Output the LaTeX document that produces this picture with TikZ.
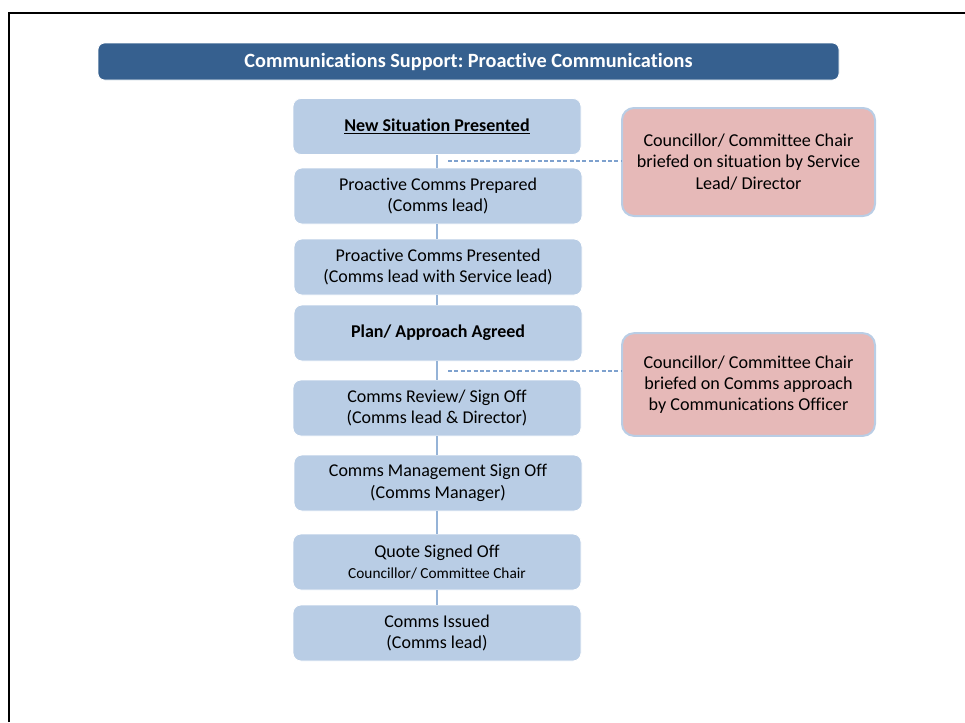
\documentclass[tikz,border=0pt]{standalone}
\usepackage{fontspec}
\setmainfont{Carlito}[Ligatures={NoCommon}]
\definecolor{titleblue}{HTML}{36608F}
\definecolor{boxblue}{HTML}{B9CDE5}
\definecolor{notered}{HTML}{E6B9B8}
\definecolor{linkblue}{HTML}{95B3D7}
\definecolor{dashblue}{HTML}{7EA1CE}
\begin{document}
\begin{tikzpicture}[x=0.75pt,y=-0.75pt,
  stepbox/.style={rectangle, rounded corners=6pt, fill=boxblue, draw=white, line width=0.6pt,
    minimum width=216pt, minimum height=42pt, align=center, inner sep=2pt,
    font=\fontsize{13.5}{16}\selectfont},
  notebox/.style={rectangle, rounded corners=9pt, fill=notered, draw=boxblue, line width=1.5pt,
    minimum width=189.75pt, align=center, inner sep=2pt,
    font=\fontsize{13.6}{16}\selectfont},
  titlebar/.style={rectangle, rounded corners=5pt, fill=titleblue, draw=white, line width=0.6pt,
    minimum width=555.75pt, minimum height=27.75pt, text=white,
    font=\fontsize{15.2}{18}\selectfont\bfseries},
  flow/.style={draw=linkblue, line width=1.1pt},
  brief/.style={draw=dashblue, line width=0.8pt, dash pattern=on 3pt off 1.8pt}
]
\useasboundingbox (0,0) rectangle (965,722);
\draw[black, line width=1.5pt] (9,722) -- (9,13) -- (965,13);

\node[titlebar] (title) at (468.5,61.5) {Communications Support:\ Proactive Communications};

\node[stepbox] (b1) at (437,126.5) {\textbf{\underline{New Situation Presented}}};
\node[stepbox] (b2) at (438,196) {Proactive Comms Prepared\\(Comms lead)};
\node[stepbox] (b3) at (438,267) {Proactive Comms Presented\\(Comms lead with Service lead)};
\node[stepbox] (b4) at (438,333) {\textbf{Plan/ Approach Agreed}};
\node[stepbox] (b5) at (437,408) {Comms Review/ Sign Off\\(Comms lead \& Director)};
\node[stepbox] (b6) at (438,483) {Comms Management Sign Off\\(Comms Manager)};
\node[stepbox] (b7) at (437,562) {Quote Signed Off\\{\fontsize{11.5}{14}\selectfont Councillor/ Committee Chair}};
\node[stepbox] (b8) at (437,633) {Comms Issued\\(Comms lead)};

\node[notebox, minimum height=81pt] (r1) at (748.5,162) {Councillor/ Committee Chair\\briefed on situation by Service\\Lead/ Director};
\node[notebox, minimum height=77pt] (r2) at (748.5,384.5) {Councillor/ Committee Chair\\briefed on Comms approach\\by Communications Officer};

\draw[flow] (b1.south -| b1) -- (b1.south |- b2.north);
\draw[flow] (b2.south -| b1) -- (b1.south |- b3.north);
\draw[flow] (b3.south -| b1) -- (b1.south |- b4.north);
\draw[flow] (b4.south -| b1) -- (b1.south |- b5.north);
\draw[flow] (b5.south -| b1) -- (b1.south |- b6.north);
\draw[flow] (b6.south -| b1) -- (b1.south |- b7.north);
\draw[flow] (b7.south -| b1) -- (b1.south |- b8.north);

\coordinate (d1) at (448,161);
\coordinate (d2) at (448,371);
\draw[brief] (d1) -- (d1 -| r1.west);
\draw[brief] (d2) -- (d2 -| r2.west);
\end{tikzpicture}
\end{document}
